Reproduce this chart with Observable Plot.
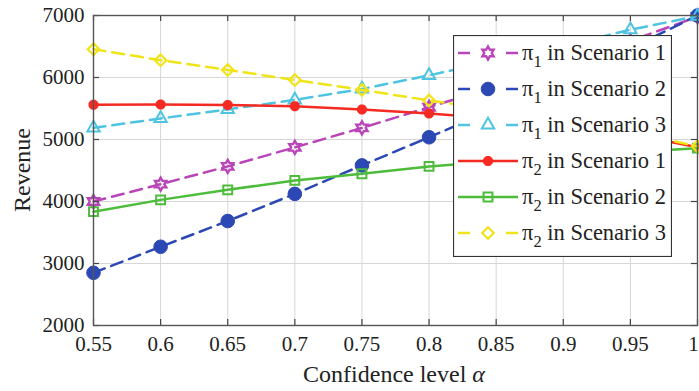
<!DOCTYPE html>
<html><head><meta charset="utf-8">
<script src="https://cdn.jsdelivr.net/npm/d3@7"></script>
<script src="https://cdn.jsdelivr.net/npm/@observablehq/plot@0.6"></script>
<style>
body{margin:0;background:#fff;}
#wrap{position:relative;width:699px;height:391px;overflow:hidden;font-family:"Liberation Serif","Times New Roman",Times,serif;color:#222;}
#wrap svg{display:block;}
#wrap text{font-family:"Liberation Serif","Times New Roman",Times,serif;}
.ytitle{position:absolute;left:22px;top:170px;transform:translate(-50%,-50%) rotate(-90deg);font-size:24px;white-space:nowrap;line-height:1;}
.xtitle{position:absolute;left:394px;top:374px;transform:translate(-50%,-50%);font-size:24px;white-space:nowrap;line-height:1;}
#legend{position:absolute;left:453px;top:35px;}
</style></head><body><div id="wrap"></div>
<script>
// ---- data ----
const alpha = [0.55, 0.6, 0.65, 0.7, 0.75, 0.8, 0.85, 0.9, 0.95, 1];
const pi1S1 = [4000, 4280, 4566, 4873, 5187, 5520, 5860, 6220, 6590, 6980];
const pi1S2 = [2850, 3270, 3685, 4123, 4582, 5036, 5500, 5980, 6470, 7000];
const pi1S3 = [5188, 5339, 5485, 5640, 5815, 6035, 6270, 6510, 6770, 6990];
const pi2S1 = [5561, 5565, 5555, 5538, 5485, 5420, 5340, 5230, 5090, 4875];
const pi2S2 = [3836, 4026, 4188, 4340, 4447, 4566, 4650, 4730, 4800, 4860];
const pi2S3 = [6457, 6279, 6122, 5960, 5800, 5630, 5470, 5300, 5120, 4890];
const seriesPi = ["1", "1", "1", "2", "2", "2"];
const seriesScen = ["Scenario 1", "Scenario 2", "Scenario 3", "Scenario 1", "Scenario 2", "Scenario 3"];
const xTicks = [0.55, 0.6, 0.65, 0.7, 0.75, 0.8, 0.85, 0.9, 0.95, 1];
const yTicks = [2000, 3000, 4000, 5000, 6000, 7000];

// ---- styles ----
const hexagram = {draw(ctx, size){ const R = Math.sqrt(size/Math.PI)*1.2, r = R/Math.sqrt(3);
  for(let i=0;i<12;i++){const a=i*Math.PI/6-Math.PI/2, rr=i%2?r:R; const x=rr*Math.cos(a), y=rr*Math.sin(a); i?ctx.lineTo(x,y):ctx.moveTo(x,y);} ctx.closePath(); }};
const star8 = {draw(ctx, size){ const R = Math.sqrt(size/Math.PI);
  for(let i=0;i<4;i++){const a=i*Math.PI/4; ctx.moveTo(R*Math.cos(a),R*Math.sin(a)); ctx.lineTo(-R*Math.cos(a),-R*Math.sin(a));} }};
const styles = [
  {data: pi1S1, color:"#b945b9", dash:"12,7", symbol: hexagram, r:5.4, fill:"none", sw:2.4},
  {data: pi1S2, color:"#2b48b5", dash:"12,7", symbol: "circle", r:6.8, fill:"#2b48b5", sw:1},
  {data: pi1S3, color:"#4ec4e0", dash:"12,7", symbol: "triangle", r:4.6, fill:"none", sw:2},
  {data: pi2S1, color:"#f52a22", dash:null, symbol: star8, r:5, fill:"none", sw:3.5},
  {data: pi2S2, color:"#4cbc3a", dash:null, symbol: "square", r:5, fill:"none", sw:2},
  {data: pi2S3, color:"#f0e418", dash:"12,7", symbol: "diamond2", r:5.2, fill:"none", sw:2.2}
];

const W=699, H=391, mL=93, mR=2, mT=15, mB=66;
const pw = W-mL-mR, ph = H-mT-mB;
const FONT = '"Liberation Serif", "Times New Roman", Times, serif';

const marks = [
  Plot.gridX(xTicks, {stroke:"#d6d6d6", strokeOpacity:1, strokeWidth:1}),
  Plot.gridY(yTicks, {stroke:"#d6d6d6", strokeOpacity:1, strokeWidth:1}),
];
styles.forEach(s => {
  const rows = alpha.map((a,i) => ({a, v: s.data[i]}));
  marks.push(Plot.line(rows, {x:"a", y:"v", stroke:s.color, strokeWidth:2.5, strokeDasharray:s.dash}));
  marks.push(Plot.dot(rows, {x:"a", y:"v", symbol:()=>s.symbol, r:s.r, stroke:s.color, fill:s.fill, strokeWidth:s.sw}));
});
marks.push(
  Plot.tickX(xTicks, {x:d=>d, insetTop:ph-6, stroke:"#444", strokeWidth:1.2}),
  Plot.tickX(xTicks, {x:d=>d, insetBottom:ph-6, stroke:"#444", strokeWidth:1.2}),
  Plot.tickY(yTicks, {y:d=>d, insetRight:pw-6, stroke:"#444", strokeWidth:1.2}),
  Plot.tickY(yTicks, {y:d=>d, insetLeft:pw-6, stroke:"#444", strokeWidth:1.2}),
  Plot.frame({stroke:"#555", strokeWidth:1.4}),
  Plot.axisX(xTicks.slice(0, -1), {tickSize:0, tickPadding:11, fontSize:21, tickFormat:d=>String(d), label:null}),
  Plot.axisX(xTicks.slice(-1), {tickSize:0, tickPadding:11, fontSize:21, tickFormat:d=>String(d), label:null, dx:-4}),
  Plot.axisY(yTicks, {tickSize:0, tickPadding:9, fontSize:21, tickFormat:d=>String(d), label:null})
);

const chart = Plot.plot({
  width:W, height:H, marginLeft:mL, marginRight:mR, marginTop:mT, marginBottom:mB,
  x:{domain:[0.55,1]}, y:{domain:[2000,7000]},
  style:{fontFamily:FONT, fontSize:"21px", color:"#222", background:"#fff"},
  marks
});
const wrap = document.getElementById("wrap");
wrap.appendChild(chart);

const yt = document.createElement("div"); yt.className="ytitle"; yt.textContent="Revenue"; wrap.appendChild(yt);
const xt = document.createElement("div"); xt.className="xtitle"; xt.innerHTML='Confidence level <i>α</i>'; wrap.appendChild(xt);

// ---- legend ----
const LW=219, LH=222;
const leg = d3.select(wrap).append("svg").attr("id","legend").attr("width",LW).attr("height",LH);
leg.append("rect").attr("x",0.5).attr("y",0.5).attr("width",LW-1).attr("height",LH-1).attr("fill","#fff").attr("stroke","#333").attr("stroke-width",1.2);
const symMap = {circle:d3.symbolCircle, triangle:d3.symbolTriangle, square:d3.symbolSquare, diamond2:d3.symbolDiamond2};
styles.forEach((s,i) => {
  const cy = 18 + i*36;
  const g = leg.append("g");
  if (s.dash) {
    g.append("line").attr("x1",5).attr("x2",17).attr("y1",cy).attr("y2",cy).attr("stroke",s.color).attr("stroke-width",2.5);
    g.append("line").attr("x1",53).attr("x2",65).attr("y1",cy).attr("y2",cy).attr("stroke",s.color).attr("stroke-width",2.5);
  } else {
    g.append("line").attr("x1",5).attr("x2",65).attr("y1",cy).attr("y2",cy).attr("stroke",s.color).attr("stroke-width",2.5);
  }
  const sym = typeof s.symbol === "string" ? symMap[s.symbol] : s.symbol;
  g.append("path").attr("transform",`translate(35,${cy})`).attr("d", d3.symbol(sym, s.r*s.r*Math.PI)())
    .attr("fill", s.fill).attr("stroke", s.color).attr("stroke-width", s.sw);
  const t = g.append("text").attr("x",69).attr("y",cy+7).attr("font-size",22.5).attr("fill","#222");
  t.append("tspan").text("π");
  t.append("tspan").attr("dy",7).attr("font-size",16.5).text(seriesPi[i]);
  t.append("tspan").attr("dy",-7).text(" in " + seriesScen[i]);
});
</script>
</body></html>
